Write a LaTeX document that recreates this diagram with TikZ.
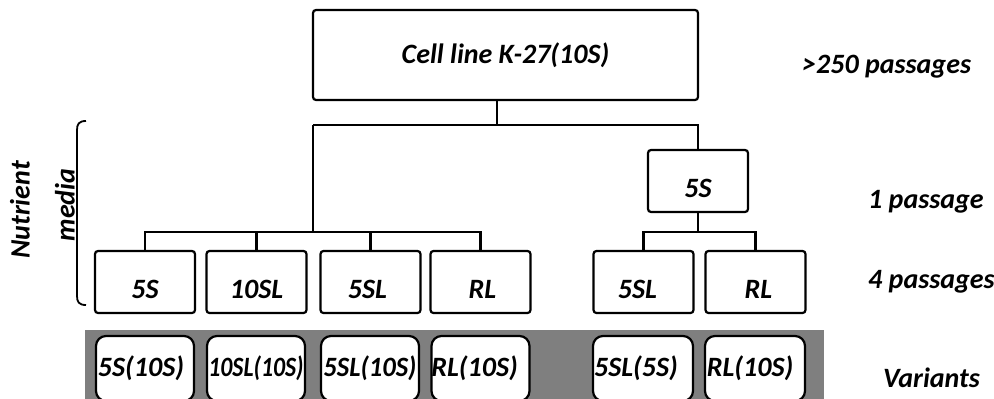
\documentclass[tikz,border=0pt]{standalone}
\usepackage{fontspec}
\usepackage{graphicx}
\setmainfont{Carlito}
\definecolor{bandgray}{HTML}{7F7F7F}
\begin{document}
\begin{tikzpicture}[x=1pt,y=-1pt,
  every node/.style={font=\fontsize{28}{32}\selectfont\bfseries\itshape},
  line/.style={line width=2.2pt},
  bx/.style={draw, line width=2.2pt, rounded corners=3pt, minimum width=100pt, minimum height=62pt, inner sep=0pt, text height=36pt, text depth=4pt},
  vbox/.style={draw, fill=white, line width=2.2pt, rounded corners=10pt, minimum width=98pt, minimum height=65pt, inner sep=0pt, text height=19pt, text depth=4pt},
  lab/.style={anchor=base west, inner sep=0pt}]
\path[use as bounding box, clip] (0,0) rectangle (994,399);
% grey band
\fill[bandgray] (85,330) rectangle (824,402);
% boxes
\node[bx, minimum width=385pt, minimum height=90pt, text height=20pt, text depth=4pt] (top) at (505.5,55) {Cell line K-27(10S)};
\node[bx] (mid) at (698,181) {5S};
\node[bx] (b1) at (145,282) {5S};
\node[bx] (b2) at (256.5,282) {10SL};
\node[bx] (b3) at (370.5,282) {\hspace*{-6pt}5SL};
\node[bx] (b4) at (480.5,282) {\hspace*{4pt}RL};
\node[bx] (r1) at (643.5,282) {\hspace*{-12pt}5SL};
\node[bx] (r2) at (755.5,282) {\hspace*{6pt}RL};
% variants
\node[vbox] (v1) at (145,368.5) {\hspace*{-8pt}5S(10S)};
\node[vbox] (v2) at (256,368.5) {\scalebox{0.85}[1]{10SL(10S)}};
\node[vbox] (v3) at (370,368.5) {\scalebox{0.95}[1]{5SL(10S)}};
\node[vbox] (v4) at (480.5,368.5) {\hspace*{-12pt}RL(10S)};
\node[vbox, minimum width=100pt] (v5) at (643,368.5) {\hspace*{-14pt}5SL(5S)};
\node[vbox, minimum width=100pt] (v6) at (755,368.5) {\hspace*{-10pt}RL(10S)};
% connectors
\coordinate (h1) at (497,125);
\coordinate (hL) at (313,125);
\coordinate (lb) at (313,232);
\coordinate (rb) at (698,232);
\draw[line] (h1 |- top.south) -- (h1);
\draw[line] (hL) -- (mid.north |- hL) -- (mid.north);
\draw[line] (hL) -- (lb);
\draw[line] (b1.north) |- (lb) -| (b4.north);
\draw[line] (b2.north) -- (b2.north |- lb);
\draw[line] (b3.north) -- (b3.north |- lb);
\draw[line] (mid.south) -- (rb);
\draw[line] (r1.north) |- (rb) -| (r2.north);
% brace
\draw[line width=1.8pt] (86,121) .. controls (79,121) and (77,124) .. (77,130) -- (77,296) .. controls (77,302) and (79,305) .. (86,305);
% side labels
\node[rotate=90] (nut) at (20,210) {Nutrient};
\node[rotate=90] (med) at (65,205) {media};
\node[lab] (p250) at (802,73) {>250 passages};
\node[lab] (p1) at (868,208) {1 passage};
\node[lab] (p4) at (868,288) {4 passages};
\node[lab] (var) at (883,387) {Variants};
\end{tikzpicture}
\end{document}
